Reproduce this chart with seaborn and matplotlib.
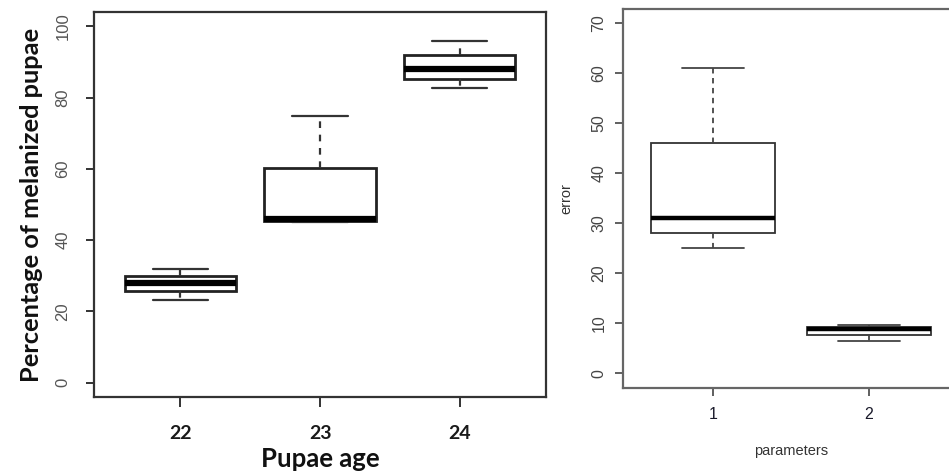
import numpy as np
import pandas as pd
import matplotlib
matplotlib.use("Agg")
import matplotlib.pyplot as plt
import seaborn as sns

# ---- data (five-number summaries) ----
ages = ["22", "23", "24"]
pct_22 = [23.1, 25.6, 27.9, 29.9, 31.8]
pct_23 = [45.0, 45.4, 46.0, 60.2, 74.8]
pct_24 = [82.6, 85.1, 88.0, 92.0, 95.8]

params = ["1", "2"]
err_1 = [25.0, 28.0, 31.0, 46.0, 61.0]
err_2 = [6.5, 7.7, 8.9, 9.2, 9.6]

left_yticks = [0, 20, 40, 60, 80, 100]
right_yticks = [0, 10, 20, 30, 40, 50, 60, 70]

df_left = pd.DataFrame({
    "age": np.repeat(ages, 5),
    "pct": pct_22 + pct_23 + pct_24,
})
df_right = pd.DataFrame({
    "param": np.repeat(params, 5),
    "err": err_1 + err_2,
})

sns.set_style("white")
plt.rcParams["font.family"] = ["Liberation Sans", "DejaVu Sans"]

fig = plt.figure(figsize=(9.49, 4.73), dpi=100)
ax1 = fig.add_axes([94 / 949, 1 - 397 / 473, 452 / 949, 385 / 473])
ax2 = fig.add_axes([623 / 949, 1 - 387.5 / 473, 336 / 949, 378.5 / 473])

# ---- left panel ----
sns.boxplot(data=df_left, x="age", y="pct", ax=ax1, width=0.8, whis=(0, 100),
            fill=True, color="white", linecolor="#222222", linewidth=2.0,
            showfliers=False,
            boxprops=dict(edgecolor="#222222", linewidth=2.0, facecolor="white"),
            medianprops=dict(color="black", linewidth=4.5),
            whiskerprops=dict(color="#333333", linewidth=1.6, linestyle=(0, (3, 3))),
            capprops=dict(color="#333333", linewidth=1.6))
ax1.set_xlim(-0.62, 2.62)
ax1.set_ylim(-4, 104)
ax1.set_yticks(left_yticks)
ax1.set_yticklabels([str(v) for v in left_yticks], rotation=90, va="center",
                    fontsize=12, color="#555555")
ax1.set_xticks(range(len(ages)))
ax1.set_xticklabels(ages, fontsize=14, fontweight="bold", family=["Lato", "DejaVu Sans"],
                    color="#1a1a1a")
for s in ax1.spines.values():
    s.set_visible(True)
    s.set_color("#333333")
    s.set_linewidth(1.6)
ax1.tick_params(axis="y", length=6, width=1.4, color="#333333", pad=11, left=True)
ax1.tick_params(axis="x", length=7, width=1.4, color="#333333", pad=13, bottom=True)
ax1.set_xlabel("Pupae age", fontsize=18.5, fontweight="bold",
               family=["Lato", "DejaVu Sans"], labelpad=4, color="#111111")
ax1.set_ylabel("Percentage of melanized pupae", fontsize=18.3, fontweight="bold",
               family=["Lato", "DejaVu Sans"], labelpad=9, color="#111111")

# ---- right panel ----
sns.boxplot(data=df_right, x="param", y="err", ax=ax2, width=0.8, whis=(0, 100),
            fill=True, color="white", linecolor="#333333", linewidth=1.3,
            showfliers=False,
            boxprops=dict(edgecolor="#333333", linewidth=1.3, facecolor="white"),
            medianprops=dict(color="black", linewidth=3.2),
            whiskerprops=dict(color="#444444", linewidth=1.3, linestyle=(0, (3, 2.5))),
            capprops=dict(color="#444444", linewidth=1.3))
ax2.set_xlim(-0.58, 1.58)
ax2.set_ylim(-2.8, 72.8)
ax2.set_yticks(right_yticks)
ax2.set_yticklabels([str(v) for v in right_yticks], rotation=90, va="center",
                    fontsize=11.5, color="#444444")
ax2.set_xticks(range(len(params)))
ax2.set_xticklabels(params, fontsize=11.5, color="#1a1a2a")
for name, s in ax2.spines.items():
    s.set_visible(name != "right")
    s.set_color("#666666")
    s.set_linewidth(1.6)
ax2.tick_params(axis="y", length=6, width=1.2, color="#444444", pad=6, left=True)
ax2.tick_params(axis="x", length=6, width=1.2, color="#444444", pad=8, bottom=True)
ax2.set_xlabel("parameters", fontsize=10.5, color="#333333", labelpad=16)
ax2.set_ylabel("error", fontsize=10.5, color="#333333", labelpad=13)

fig.savefig("out.png", dpi=100)
